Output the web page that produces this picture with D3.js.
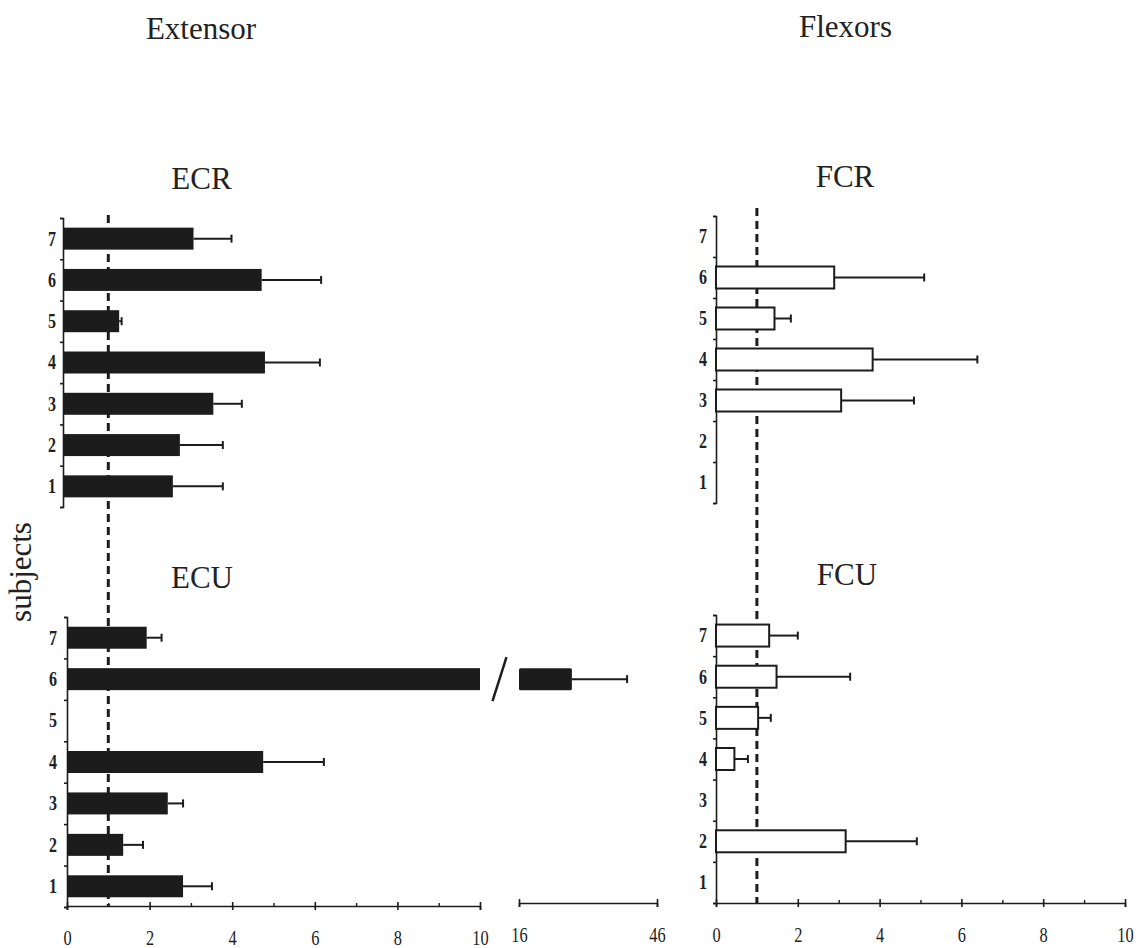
<!DOCTYPE html>
<html>
<head>
<meta charset="utf-8">
<script src="https://cdn.jsdelivr.net/npm/d3@7"></script>
<style>
  body { margin: 0; background: #fff; }
  svg { display: block; }
</style>
</head>
<body>
<svg id="chart" width="1137" height="948"></svg>
<script>
// subjects 1..7, null = no bar
const subjects = [1, 2, 3, 4, 5, 6, 7];
const ecrMean = [2.66, 2.83, 3.64, 4.89, 1.36, 4.81, 3.16];
const ecrHi   = [3.87, 3.87, 4.33, 6.22, 1.42, 6.25, 4.08];
const ecuMean = [2.81, 1.36, 2.44, 4.75, null, 27.5, 1.93];
const ecuHi   = [3.51, 1.84, 2.81, 6.22, null, 39.5, 2.29];
const fcrMean = [null, null, 3.06, 3.83, 1.43, 2.89, null];
const fcrHi   = [null, null, 4.84, 6.39, 1.83, 5.09, null];
const fcuMean = [null, 3.17, null, 0.45, 1.03, 1.48, 1.30];
const fcuHi   = [null, 4.91, null, 0.78, 1.34, 3.28, 2.00];
const majorTicks = [0, 2, 4, 6, 8, 10];
const minorTicks = [1, 3, 5, 7, 9];
const breakTicks = [16, 46];

const svg = d3.select("#chart");
const ink = "#1c1c1c";
const serif = "'Liberation Serif', 'Times New Roman', serif";
const barH = 22;

// x scales
const xLeft = d3.scaleLinear().domain([0, 10]).range([67, 480]);
const xLeftTop = d3.scaleLinear().domain([0, 10]).range([63, 476]);
const xBreak = d3.scaleLinear().domain([16, 46]).range([519, 657]);
const xRight = d3.scaleLinear().domain([0, 10]).range([716, 1125]);

const panels = [
  { name: "ECR", mean: ecrMean, hi: ecrHi, x: xLeftTop, y0: 507, y1: 218, fill: ink, pad: 7,  tx: 201.5, ty: 189 },
  { name: "ECU", mean: ecuMean, hi: ecuHi, x: xLeft,    y0: 907, y1: 617, fill: ink, pad: 10, tx: 202,   ty: 588 },
  { name: "FCR", mean: fcrMean, hi: fcrHi, x: xRight,   y0: 503, y1: 216, fill: "#fff", pad: 9, tx: 845, ty: 187 },
  { name: "FCU", mean: fcuMean, hi: fcuHi, x: xRight,   y0: 903, y1: 615, fill: "#fff", pad: 9, tx: 847, ty: 585 }
];

function text(x, y, s, size, rot) {
  const t = svg.append("text")
    .attr("x", x).attr("y", y)
    .attr("text-anchor", "middle")
    .attr("font-family", serif)
    .attr("font-size", size)
    .attr("fill", "#222")
    .text(s);
  if (rot) t.attr("transform", `rotate(${rot},${x},${y})`);
  return t;
}

text(201, 39, "Extensor", 31);
text(845.5, 37, "Flexors", 31);
text(31, 572, "subjects", 31, -90);

// dashed reference lines at 1
svg.append("line")
  .attr("x1", xLeft(1)).attr("x2", xLeft(1))
  .attr("y1", 215).attr("y2", 907)
  .attr("stroke", ink).attr("stroke-width", 3).attr("stroke-dasharray", "8,5");
svg.append("line")
  .attr("x1", xRight(1)).attr("x2", xRight(1))
  .attr("y1", 208).attr("y2", 903)
  .attr("stroke", ink).attr("stroke-width", 3).attr("stroke-dasharray", "8,5");

panels.forEach(p => {
  const y = d3.scaleLinear().domain([0.5, 7.5]).range([p.y0, p.y1]);
  const x0 = p.x(0);
  text(p.tx, p.ty, p.name, 31);

  // y axis line + slot ticks
  const ax = svg.append("g").attr("transform", `translate(${x0},0)`)
    .call(d3.axisLeft(y).tickValues(d3.range(0.5, 7.6, 1)).tickFormat("").tickSize(3).tickSizeOuter(3));
  ax.selectAll("path, line").attr("stroke", ink).attr("stroke-width", 1.6);

  // subject labels
  const lab = svg.append("g").attr("transform", `translate(${x0},0)`)
    .call(d3.axisLeft(y).tickValues(subjects).tickFormat(d3.format("d")).tickSize(0).tickPadding(p.pad));
  lab.select(".domain").remove();
  lab.selectAll("text")
    .attr("font-family", serif).attr("font-size", 20).attr("font-weight", "bold")
    .attr("fill", "#222")
    .attr("transform", "scale(0.8,1)")
    .attr("x", -p.pad / 0.8);

  const rows = subjects.map((s, i) => ({ s, m: p.mean[i], h: p.hi[i] })).filter(d => d.m != null);
  const g = svg.append("g");

  rows.forEach(d => {
    const cy = y(d.s);
    const broken = d.m > 10;
    const endMain = broken ? p.x(10) : p.x(d.m);
    g.append("rect")
      .attr("x", x0).attr("y", cy - barH / 2)
      .attr("width", endMain - x0).attr("height", barH)
      .attr("fill", p.fill)
      .attr("stroke", ink).attr("stroke-width", p.fill === ink ? 0 : 2);
    let xs = endMain, xe = p.x(d.h);
    if (broken) {
      // slash between the two parts
      const mid = (p.x(10) + xBreak(16)) / 2;
      g.append("line")
        .attr("x1", mid - 7).attr("y1", cy + 22)
        .attr("x2", mid + 7).attr("y2", cy - 22)
        .attr("stroke", ink).attr("stroke-width", 2.5);
      g.append("rect")
        .attr("x", xBreak(16)).attr("y", cy - barH / 2)
        .attr("width", xBreak(d.m) - xBreak(16)).attr("height", barH)
        .attr("rx", 1.5)
        .attr("fill", ink);
      xs = xBreak(d.m);
      xe = xBreak(d.h);
    }
    g.append("line")
      .attr("x1", xs).attr("x2", xe).attr("y1", cy).attr("y2", cy)
      .attr("stroke", ink).attr("stroke-width", 2);
    g.append("line")
      .attr("x1", xe).attr("x2", xe).attr("y1", cy - 4).attr("y2", cy + 4)
      .attr("stroke", ink).attr("stroke-width", 2);
  });
});

// x axes
function xAxis(scale, yPos, ticks, minor) {
  const g = svg.append("g").attr("transform", `translate(0,${yPos})`)
    .call(d3.axisBottom(scale).tickValues(ticks).tickSizeOuter(0).tickSize(4).tickPadding(20));
  g.select(".domain").attr("stroke", ink).attr("stroke-width", 1.6);
  g.selectAll(".tick line").attr("y1", -4).attr("y2", 4).attr("stroke", ink).attr("stroke-width", 1.6);
  g.selectAll("text")
    .attr("font-family", serif).attr("font-size", 21)
    .attr("fill", "#222")
    .attr("transform", "scale(0.78,1)");
  if (minor) {
    const m = svg.append("g").attr("transform", `translate(0,${yPos})`)
      .call(d3.axisBottom(scale).tickValues(minor).tickFormat("").tickSize(2).tickSizeOuter(0));
    m.select(".domain").remove();
    m.selectAll(".tick line").attr("y1", -3).attr("y2", 1).attr("stroke", ink).attr("stroke-width", 1.4);
  }
  return g;
}

xAxis(xLeft, 906, majorTicks, minorTicks);
xAxis(xBreak, 903, breakTicks, null);
xAxis(xRight, 903, majorTicks, minorTicks);
</script>
</body>
</html>
